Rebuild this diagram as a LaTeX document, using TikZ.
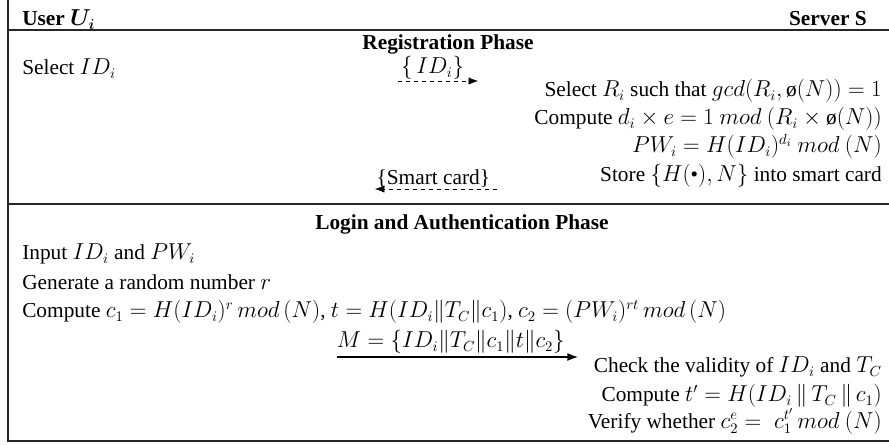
\documentclass[tikz,border=0pt,12pt]{standalone}
\usepackage{fontspec}
\setmainfont{Liberation Serif}
\usepackage{bm}
\usetikzlibrary{arrows.meta}

\newcommand{\bigtext}{\fontsize{16}{19}\selectfont}

\begin{document}
\begin{tikzpicture}[x=0.75pt,y=-0.75pt]

    \tikzstyle{frame} = [line width=1.1pt, draw=black!85]
    \tikzstyle{usertext} = [anchor=base west, inner sep=0pt, font=\bigtext]
    \tikzstyle{servertext} = [anchor=base east, inner sep=0pt, font=\bigtext]
    \tikzstyle{phase} = [anchor=base, inner sep=0pt, font=\bigtext\bfseries]
    \tikzstyle{message} = [-{Latex[length=7pt,width=5.5pt]}, dashed, thin]
    \tikzstyle{sendarrow} = [-{Latex[length=8pt,width=6pt]}, line width=1pt]

    \useasboundingbox (0,0) rectangle (889,445);

    % table frame
    \draw [frame] (8,0) -- (8,441) -- (889,441);
    \draw [frame] (8,30) -- (889,30);
    \draw [frame] (8,204) -- (889,204);

    % header
    \node (user) [usertext, font=\bigtext\bfseries] at (22,26) {User $\bm{U}_{\bm{i}}$};
    \node (server) [servertext, font=\bigtext\bfseries] at (867,26) {Server S};

    % registration phase
    \node (regphase) [phase] at (448,50) {Registration Phase};
    \node (selectid) [usertext] at (22,75) {Select $ID_i$};

    \coordinate (idfrom) at (398,81);
    \coordinate (idto) at (478,81);
    \draw [message] (idfrom) -- node (idmsg) [above=1pt, inner sep=0pt, xshift=-4pt, font=\bigtext] {$\{\,ID_i\}$} (idto);

    \node (selectr) [servertext] at (882,97) {Select $R_i$ such that $gcd(R_i, \mbox{ø}(N)) = 1$};
    \node (computed) [servertext] at (882,125) {Compute $d_i \times e = 1\ mod\ (R_i \times \mbox{ø}(N))$};
    \node (pwi) [servertext] at (882,153) {$PW_i = H(ID_i)^{d_i}\ mod\ (N)$};
    \node (store) [servertext] at (882,182) {Store $\{H(\mbox{•}), N\}$ into smart card};

    \coordinate (cardfrom) at (497,189);
    \coordinate (cardto) at (375,189);
    \draw [message] (cardfrom) -- node (cardmsg) [above=1pt, inner sep=0pt, xshift=-2pt, font=\bigtext] {\{Smart card\}} (cardto);

    % login and authentication phase
    \node (loginphase) [phase] at (462,230) {Login and Authentication Phase};
    \node (input) [usertext] at (22,260) {Input $ID_i$ and $PW_i$};
    \node (random) [usertext] at (22,290) {Generate a random number $r$};
    \node (computec) [usertext] at (22,318) {Compute $c_1 = H(ID_i)^r\, mod\, (N)$, $t = H\bigl(ID_i \Vert T_C \Vert c_1\bigr)$, $c_2 = (PW_i)^{rt}\, mod\, (N)$};

    \coordinate (mfrom) at (337,357);
    \coordinate (mto) at (578,357);
    \draw [sendarrow] (mfrom) -- node (mmsg) [above=2pt, inner sep=0pt, xshift=-5pt, font=\bigtext] {$M = \bigl\{ID_i \Vert T_C \Vert c_1 \Vert t \Vert c_2\bigr\}$} (mto);

    \node (check) [servertext] at (882,373) {Check the validity of $ID_i$ and $T_C$};
    \node (computet) [servertext] at (882,402) {Compute $t' = H\bigl(ID_i \,\Vert\, T_C \,\Vert\, c_1\bigr)$};
    \node (verify) [servertext] at (882,428) {Verify whether $c_2^e = \; c_1^{t'}\, mod\ (N)$};

\end{tikzpicture}
\end{document}
